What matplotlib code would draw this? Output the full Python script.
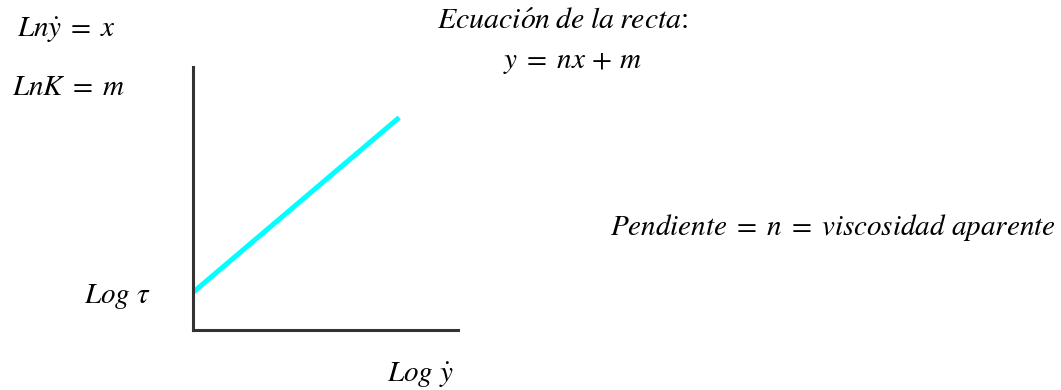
import matplotlib.pyplot as plt

plt.rcParams['mathtext.fontset'] = 'stix'
plt.rcParams['font.family'] = 'STIXGeneral'

# line of the diagram (axes fractions)
log_gamma = [0.0, 0.778]
log_tau = [0.143, 0.808]

# labels
labels = {
    'lny': r'$Ln\dot{y}\;=\;x$',
    'lnk': r'$LnK\;=\;m$',
    'title': r'$Ecuaci\acute{o}n\;de\;la\;recta$:',
    'eq': r'$y\;=\;nx\,+\,m$',
    'slope': r'$Pendiente\;=\;n\;=\;viscosidad\ aparente$',
    'ylab': r'$Log\ \tau$',
    'xlab': r'$Log\ \dot{y}$',
}

W, H = 1061, 390
fig = plt.figure(figsize=(W / 100, H / 100), dpi=100)
ax = fig.add_axes([193 / W, (H - 330) / H, 265 / W, 263 / H])
ax.plot(log_gamma, log_tau, color='#00FFFF', linewidth=3.6, solid_capstyle='butt')
ax.set_xlim(0, 1)
ax.set_ylim(0, 1)
ax.set_xticks([])
ax.set_yticks([])
for s in ['top', 'right']:
    ax.spines[s].set_visible(False)
for s in ['left', 'bottom']:
    ax.spines[s].set_color('#333333')
    ax.spines[s].set_linewidth(2.2)

fs = 21


def put(px, py, key, ha='left', size=fs):
    fig.text(px / W, 1 - py / H, labels[key], fontsize=size, ha=ha, va='baseline')


put(17, 37, 'lny')
put(12, 95, 'lnk')
put(437, 29, 'title', size=21.5)
put(503, 68, 'eq')
put(1056, 235, 'slope', ha='right')
put(84, 303, 'ylab')
put(387, 382, 'xlab')

fig.savefig('out.png', dpi=100, facecolor='white')
